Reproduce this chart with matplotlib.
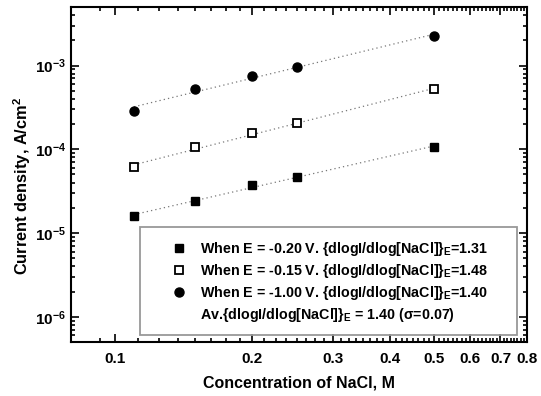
import matplotlib
matplotlib.use('Agg')

import matplotlib.pyplot as plt
import numpy as np
from matplotlib.lines import Line2D
from matplotlib.patches import Rectangle
from matplotlib.ticker import FixedLocator, FuncFormatter, LogLocator, NullFormatter

plt.rcParams['font.family'] = ['Liberation Sans', 'DejaVu Sans']
plt.rcParams['font.weight'] = 'bold'
plt.rcParams['mathtext.fontset'] = 'custom'
plt.rcParams['mathtext.rm'] = 'Liberation Sans:bold'
plt.rcParams['mathtext.bf'] = 'Liberation Sans:bold'

# --- data ---
conc = [0.11, 0.15, 0.20, 0.25, 0.50]            # NaCl, M
i_m020 = [1.60e-5, 2.41e-5, 3.74e-5, 4.67e-5, 1.06e-4]   # E = -0.20 V
i_m015 = [6.1e-5, 1.06e-4, 1.55e-4, 2.04e-4, 5.2e-4]     # E = -0.15 V
i_m100 = [2.9e-4, 5.3e-4, 7.4e-4, 9.5e-4, 2.27e-3]       # E = -1.00 V

labels = [r'When E = -0.20 V. {dlogI/dlog[NaCl]}$_\mathbf{E}$=1.31',
          r'When E = -0.15 V. {dlogI/dlog[NaCl]}$_\mathbf{E}$=1.48',
          r'When E = -1.00 V. {dlogI/dlog[NaCl]}$_\mathbf{E}$=1.40',
          r'Av.{dlogI/dlog[NaCl]}$_\mathbf{E}$ = 1.40 (σ=0.07)']

xticks = [0.1, 0.2, 0.3, 0.4, 0.5, 0.6, 0.7, 0.8]

fig = plt.figure(figsize=(5.41, 3.96), dpi=100)
ax = fig.add_axes([0.131, 0.1364, 0.843, 0.846])

styles = [dict(marker='s', mfc='black', mec='black', ms=5.5),
          dict(marker='s', mfc='white', mec='black', ms=5.5, mew=1.3),
          dict(marker='o', mfc='black', mec='black', ms=6.5)]

handles = []
x = np.array(conc)
for yv, st in zip([i_m020, i_m015, i_m100], styles):
    y = np.array(yv)
    # linear fit in log-log space
    p = np.polyfit(np.log10(x), np.log10(y), 1)
    ax.plot(x, 10 ** np.polyval(p, np.log10(x)), color='#777777', lw=0.9,
            linestyle=(0, (1, 2.5)), zorder=2)
    ax.plot(x, y, linestyle='none', zorder=3, **st)
    handles.append(Line2D([], [], linestyle='none', **st))
handles.append(Line2D([], [], linestyle='none', marker=None))

ax.set_xscale('log')
ax.set_yscale('log')
ax.set_xlim(0.08, 0.8)
ax.set_ylim(5e-7, 5e-3)

# x ticks: labelled major ticks, minor ticks at 1/8 steps between them
minors = []
edges = [0.08] + xticks
for a, b in zip(edges[:-1], edges[1:]):
    step = 0.0125 if a < 0.1 else (b - a) / 8
    minors += list(np.arange(a + step, b - step / 2, step))
ax.xaxis.set_major_locator(FixedLocator(xticks))
ax.xaxis.set_minor_locator(FixedLocator(minors))
ax.xaxis.set_major_formatter(FuncFormatter(lambda v, pos: '%g' % v))
ax.xaxis.set_minor_formatter(NullFormatter())

ax.yaxis.set_major_locator(LogLocator(base=10, numticks=10))
ax.yaxis.set_minor_locator(LogLocator(base=10, subs=np.arange(2, 10), numticks=10))
ax.yaxis.set_major_formatter(FuncFormatter(
    lambda v, pos: r'$\mathbf{10^{%d}}$' % int(round(np.log10(v)))))
ax.yaxis.set_minor_formatter(NullFormatter())

ax.tick_params(which='both', direction='in', top=True, right=True, width=1.2,
               labelsize=11)
ax.tick_params(axis='x', which='major', pad=7)
ax.tick_params(which='major', length=6)
ax.tick_params(which='minor', length=3)
for s in ax.spines.values():
    s.set_linewidth(1.5)

ax.set_xlabel('Concentration of NaCl, M', fontsize=11.5, fontweight='bold', labelpad=7)
ax.set_ylabel(r'Current density, A/cm$^\mathbf{2}$', fontsize=11.8, fontweight='bold')
ax.yaxis.set_label_coords(-0.082, 0.466)

# legend box
ax.add_patch(Rectangle((0.151, 0.021), 0.827, 0.322, transform=ax.transAxes,
                       fill=False, edgecolor='#999999', lw=1.3, zorder=4))
ax.legend(handles, labels, loc='upper left', bbox_to_anchor=(0.2215, 0.305),
          frameon=False, borderpad=0, handlelength=1.0, handletextpad=0.95,
          labelspacing=0.28, fontsize=10.3, borderaxespad=0)

plt.savefig('out.png', dpi=100)
